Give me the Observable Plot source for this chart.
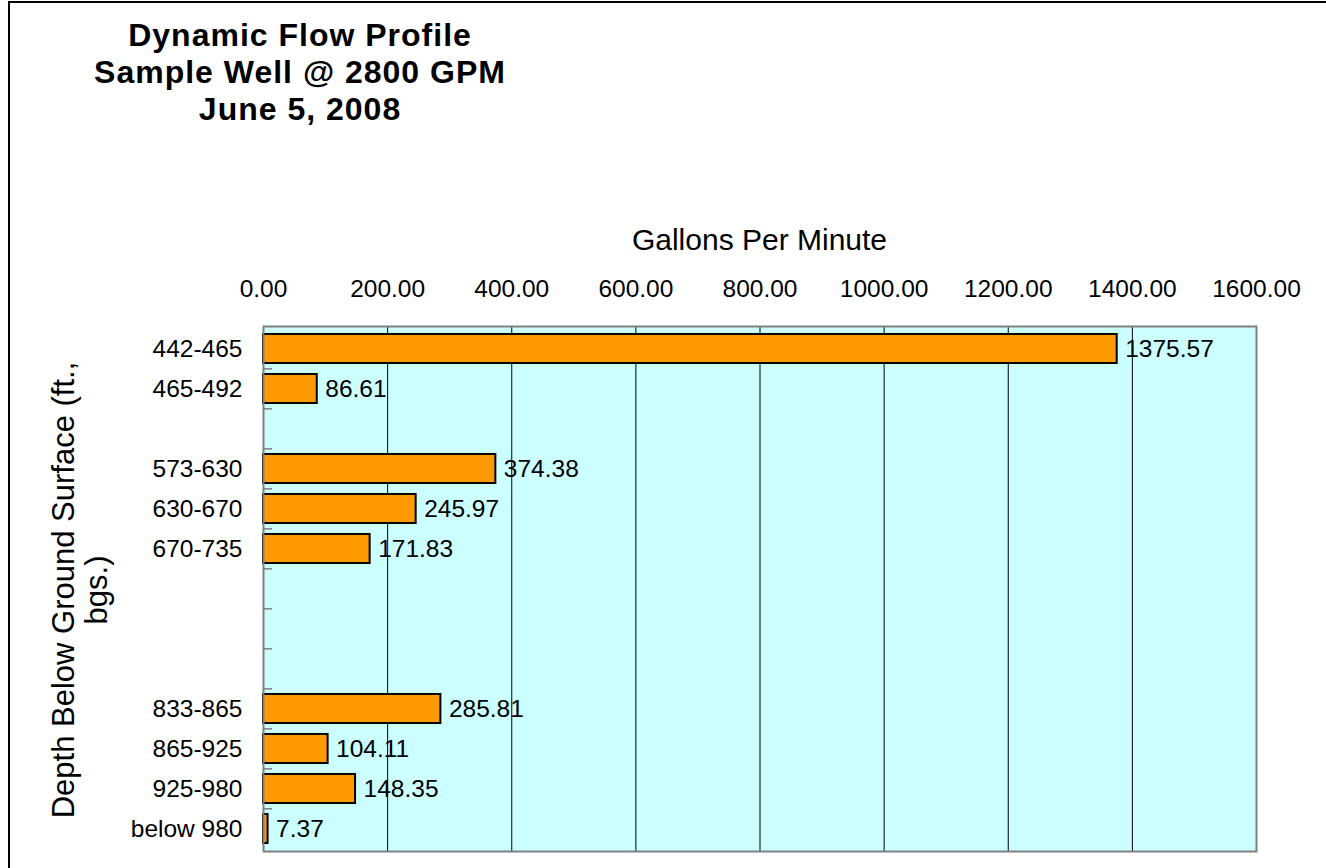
<!DOCTYPE html>
<html>
<head>
<meta charset="utf-8">
<script src="https://cdn.jsdelivr.net/npm/d3@7"></script>
<script src="https://cdn.jsdelivr.net/npm/@observablehq/plot@0.6"></script>
<style>
  html, body { margin: 0; padding: 0; background: #fff; overflow: hidden; }
  #wrap { position: relative; width: 1326px; height: 868px; font-family: "Liberation Sans", Arial, sans-serif; color: #000; }
  #chart { position: absolute; left: 0; top: 0; }
  #border { position: absolute; left: 8px; top: 1px; width: 1400px; height: 1000px; border-left: 2px solid #000; border-top: 2px solid #000; pointer-events: none; }
  #title { position: absolute; left: 0; top: 17px; width: 600px; text-align: center; font-weight: bold; font-size: 32px; line-height: 37px; letter-spacing: 1px; }
  #xlabel { position: absolute; left: 263px; top: 225px; width: 993px; text-align: center; font-size: 30px; line-height: 30px; }
  #ylabel { position: absolute; left: -220px; top: 557px; width: 600px; height: 66px; text-align: center; font-size: 31px; line-height: 33px; transform: rotate(-90deg); transform-origin: 50% 50%; }
</style>
</head>
<body>
<div id="wrap">
  <div id="chart"></div>
  <div id="border"></div>
  <div id="title">Dynamic Flow Profile<br>Sample Well @ 2800 GPM<br>June 5, 2008</div>
  <div id="xlabel">Gallons Per Minute</div>
  <div id="ylabel">Depth Below Ground Surface (ft.,<br>bgs.)</div>
</div>
<script>
// Depth intervals (blank entries are unlabeled rows in the original chart)
const categories = ["442-465", "465-492", "", "573-630", "630-670", "670-735", "", "", "", "833-865", "865-925", "925-980", "below 980"];
// Flow in gallons per minute for each interval (null = no bar)
const flows = [1375.57, 86.61, null, 374.38, 245.97, 171.83, null, null, null, 285.81, 104.11, 148.35, 7.37];
// X axis tick values
const xTicks = [0, 200, 400, 600, 800, 1000, 1200, 1400, 1600];
const gridLines = [200, 400, 600, 800, 1000, 1200, 1400];

const W = 1326, H = 868, mt = 326, mb = 17, ml = 263, mr = 70;
const n = categories.length;
const step = (H - mt - mb) / n;
const idx = d3.range(n);
const rows = idx.filter(i => flows[i] != null).map(i => ({i, v: flows[i]}));
const boundaries = d3.range(1, n);

const chart = Plot.plot({
  width: W,
  height: H,
  marginTop: mt,
  marginBottom: mb,
  marginLeft: ml,
  marginRight: mr,
  style: { fontFamily: '"Liberation Sans", Arial, sans-serif', fontSize: "24.5px", color: "#000", background: "transparent", overflow: "visible" },
  x: { domain: [0, 1600] },
  y: { domain: idx, paddingInner: 0.28, paddingOuter: 0.14 },
  marks: [
    Plot.frame({ fill: "#CCFFFF", stroke: "none" }),
    Plot.ruleX(gridLines, { stroke: "#000", strokeWidth: 1 }),
    Plot.ruleY(boundaries, { y: d => d, dy: -step / 2, stroke: "#808080", strokeWidth: 1.5, insetRight: (W - ml - mr) - 9 }),
    Plot.barX(rows, { x: "v", y: "i", fill: "#FF9900", stroke: "#000", strokeWidth: 2 }),
    Plot.text(rows, { x: "v", y: "i", text: d => d.v.toFixed(2), textAnchor: "start", dx: 8, fill: "#000", fontSize: 24.5 }),
    Plot.axisX({ anchor: "top", ticks: xTicks, tickFormat: d => d.toFixed(2), tickSize: 0, tickPadding: 30, label: null, fontSize: 24.5, fill: "#000" }),
    Plot.axisY({ anchor: "left", ticks: idx, tickFormat: i => categories[i], tickSize: 0, tickPadding: 21, label: null, fontSize: 24.5, fill: "#000" }),
    Plot.frame({ stroke: "#808080", strokeWidth: 2 })
  ]
});
document.getElementById("chart").appendChild(chart);
</script>
</body>
</html>
